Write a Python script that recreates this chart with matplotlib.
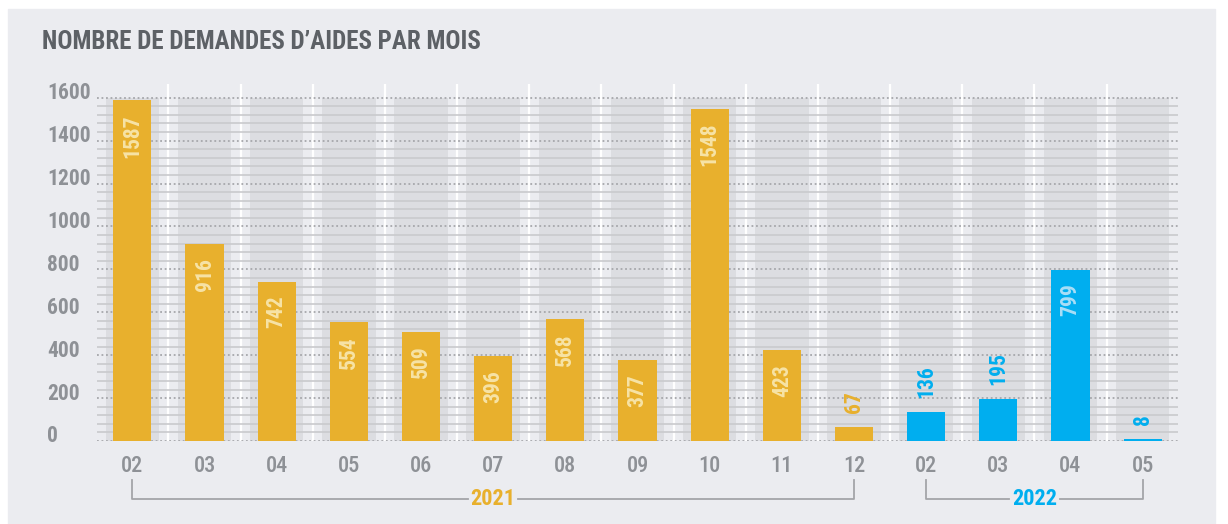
import numpy as np
import matplotlib
matplotlib.use("Agg")
import matplotlib.pyplot as plt
from matplotlib import font_manager
from matplotlib.patches import Rectangle
import matplotlib.transforms as mtransforms

# data
months = ['02', '03', '04', '05', '06', '07', '08', '09', '10', '11', '12',
          '02', '03', '04', '05']
values = [1587, 916, 742, 554, 509, 396, 568, 377, 1548, 423, 67,
          136, 195, 799, 8]
years = ['2021'] * 11 + ['2022'] * 4
yticks = [0, 200, 400, 600, 800, 1000, 1200, 1400, 1600]
title = "NOMBRE DE DEMANDES D\u2019AIDES PAR MOIS"

#colours
orange = '#e8b02d'
blue = '#00aeef'
orange_txt = '#f7e3a6'
blue_txt = '#a9def7'
panel = '#ebecf0'
band = '#dcdde1'
grey_txt = '#8e9196'
title_col = '#5d6166'
year_col = {'2021': orange, '2022': blue}
lbl_col = {'2021': orange_txt, '2022': blue_txt}

# pick a narrow font if there is one
names = set(f.name for f in font_manager.fontManager.ttflist)
fam = 'Roboto'
for cand in ['Liberation Sans Narrow', 'Roboto Condensed', 'Open Sans Condensed']:
    if cand in names:
        fam = cand
        break
plt.rcParams['font.family'] = [fam, 'DejaVu Sans']

W, H = 1228, 524
fig = plt.figure(figsize=(W / 100, H / 100), dpi=100, facecolor='white')
fig.patches.append(Rectangle((8 / W, 0), (1215 - 8) / W, (H - 9) / H,
                             transform=fig.transFigure, color=panel, zorder=-10))

# axes: x from 97 to 1178 px, y from 441 (0) up to 84 px
ax_l, ax_r, ax_b, ax_t = 97, 1178, 441, 84
ax = fig.add_axes([ax_l / W, (H - ax_b) / H, (ax_r - ax_l) / W, (ax_b - ax_t) / H])
ax.set_zorder(1)
ax.set_facecolor('none')
n = len(values)
x = np.arange(n)
ymax = 1600 * (ax_b - ax_t) / (ax_b - 97.7)
ax.set_xlim(-0.49, n - 0.51)
ax.set_ylim(0, ymax)
for s in ax.spines.values():
    s.set_visible(False)
ax.set_xticks([])
ax.set_yticks([])

# grey bands and white separators
ax.bar(x, 1600, width=0.74, color=band, zorder=1)
ax.vlines(x[:-1] + 0.5, 0, ymax, color='white', lw=1.6, zorder=1.5)

# grid: solid every 40, dotted every 200
minor = [v for v in range(40, 1600, 40) if v % 200 != 0]
ax.hlines(minor, -0.49, n - 0.51, color='#c9cacd', lw=1.2, zorder=2)
ax.hlines(yticks, -0.49, n - 0.51, color='#a6a7ab', lw=1.3,
          linestyles=(0, (1, 1.5)), zorder=2)

cols = [year_col[y] for y in years]
ax.bar(x, values, width=0.53, color=cols, zorder=3)

for i, v in enumerate(values):
    if v > 300:
        ax.annotate(str(v), (i, v), xytext=(0, -10), textcoords='offset points',
                    rotation=90, ha='center', va='top', fontsize=15.5,
                    fontweight='bold', color=lbl_col[years[i]], zorder=4)
    else:
        ax.annotate(str(v), (i, v), xytext=(0, 10), textcoords='offset points',
                    rotation=90, ha='center', va='bottom', fontsize=15.5,
                    fontweight='bold', color=year_col[years[i]], zorder=4)

# y labels, left aligned
ylab_tr = mtransforms.offset_copy(ax.get_yaxis_transform(), fig=fig, x=0, y=4.5, units='dots')
for t in yticks:
    ax.text(-(ax_l - 47) / (ax_r - ax_l), t, str(t), transform=ylab_tr,
            ha='left', va='center', fontsize=15.5, fontweight='bold', color=grey_txt)

# month labels
xtr = ax.get_xaxis_transform()
ah = ax_b - ax_t
for i, m in enumerate(months):
    ax.text(i, -25 / ah, m, transform=xtr, ha='center', va='center',
            fontsize=16, fontweight='medium', color=grey_txt, clip_on=False)

# year brackets
y_top = -(480 - ax_b) / ah
y_line = -(499 - ax_b) / ah
gap = 0.35
for yr in ['2021', '2022']:
    idx = [i for i, y in enumerate(years) if y == yr]
    a, b = idx[0], idx[-1]
    mid = (a + b) / 2
    kw = dict(color='#a3a4a8', lw=1.3, transform=xtr, clip_on=False)
    ax.plot([a, a, mid - gap], [y_top, y_line, y_line], **kw)
    ax.plot([mid + gap, b, b], [y_line, y_line, y_top], **kw)
    ax.text(mid, y_line, yr, transform=xtr, ha='center', va='center',
            fontsize=16, fontweight='bold', color=year_col[yr])

fig.text(42 / W, 1 - 42 / H, title, ha='left', va='center', fontsize=18,
         fontweight='bold', color=title_col)

fig.savefig('out.png', dpi=100, facecolor='white')
